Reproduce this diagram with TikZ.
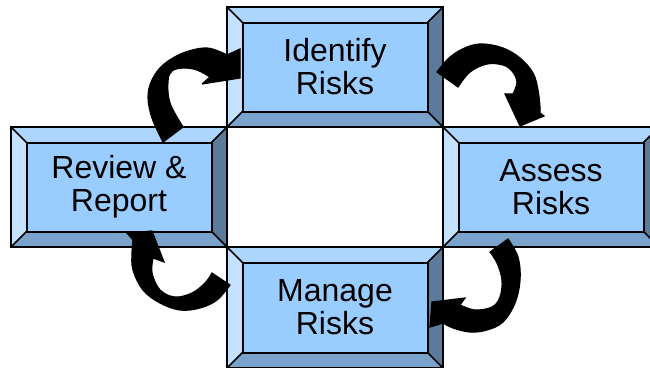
\documentclass[tikz,border=0pt]{standalone}
\usepackage{fontspec}
\setmainfont{Liberation Sans}

\definecolor{face}{HTML}{99CCFF}
\definecolor{bvtop}{HTML}{ADD6FF}
\definecolor{bvleft}{HTML}{C4E2FF}
\definecolor{bvright}{HTML}{5C7A99}
\definecolor{bvbottom}{HTML}{7AA3CC}

\newcommand{\bevw}{15.5pt}

\begin{document}
\begin{tikzpicture}[x=1pt,y=-1pt,
  bevelbox/.style={rectangle, minimum width=216pt, minimum height=120pt,
    inner sep=0pt, fill=face, draw=black, line width=2pt, align=center,
    text=black, font=\fontsize{32pt}{33pt}\selectfont,
    path picture={
      \path (path picture bounding box.north west) coordinate (o1)
            (path picture bounding box.north east) coordinate (o2)
            (path picture bounding box.south east) coordinate (o3)
            (path picture bounding box.south west) coordinate (o4);
      \path ([shift={(\bevw,-\bevw)}]o1) coordinate (i1)
            ([shift={(-\bevw,-\bevw)}]o2) coordinate (i2)
            ([shift={(-\bevw,\bevw)}]o3) coordinate (i3)
            ([shift={(\bevw,\bevw)}]o4) coordinate (i4);
      \fill[bvtop] (o1) -- (o2) -- (i2) -- (i1) -- cycle;
      \fill[bvright] (o2) -- (o3) -- (i3) -- (i2) -- cycle;
      \fill[bvbottom] (o3) -- (o4) -- (i4) -- (i3) -- cycle;
      \fill[bvleft] (o4) -- (o1) -- (i1) -- (i4) -- cycle;
      \draw[line width=2pt] (i1) rectangle (i3);
      \draw[line width=1.5pt] (o1) -- (i1) (o2) -- (i2) (o3) -- (i3) (o4) -- (i4);
    }},
  blockarrow/.style={fill=black, draw=black, line width=1.2pt, line join=miter, miter limit=3}]

\clip (0,0) rectangle (650,367);
\fill[white] (0,0) rectangle (650,367);

% the four stages
\node[bevelbox] (identify) at (335,67)  {Identify\\Risks};
\node[bevelbox] (review)   at (119,187) {Review \&\\Report};
\node[bevelbox] (assess)   at (551,187) {Assess\\Risks};
\node[bevelbox, minimum height=121pt] (manage) at (335,307.5) {Manage\\Risks};

% curved block arrows running clockwise
% review -> identify
\filldraw[blockarrow]
  plot[smooth, tension=0.6] coordinates {(163,142) (152,118) (148,97) (152,80) (163,65) (183,53) (207,48) (227,55)}
  -- (240,49) -- (240,78) -- (202,84)
  -- plot[smooth, tension=0.6] coordinates {(210,77) (197,70) (183,68) (172,71) (168,81) (170,103) (183,127)}
  -- cycle;

% identify -> assess
\filldraw[blockarrow]
  plot[smooth, tension=0.6] coordinates {(437,72) (450,57) (467,47) (483,44) (503,48) (520,58) (533,73) (538,90) (540,107) (540,113)}
  -- (544,116) -- (520,126) -- (505,94)
  -- plot[smooth, tension=0.6] coordinates {(513,94) (517,82) (512,71) (503,65) (487,64) (470,72) (458,87)}
  -- cycle;

% assess -> manage
\filldraw[blockarrow]
  plot[smooth, tension=0.6] coordinates {(508,239) (518,257) (520,280) (515,303) (503,322) (487,330) (470,332) (453,328) (443,323)}
  -- (430,327) -- (432,302) -- (465,298)
  -- plot[smooth, tension=0.6] coordinates {(460,305) (475,310) (492,307) (500,297) (502,280) (497,263) (490,252)}
  -- cycle;

% manage -> review
\filldraw[blockarrow]
  plot[smooth, tension=0.6] coordinates {(230,285) (217,300) (200,308) (180,310) (160,303) (143,290) (133,270) (132,253) (133,240)}
  -- (127,233) -- (152,231) -- (164,262)
  -- plot[smooth, tension=0.6] coordinates {(153,258) (152,273) (160,290) (175,297) (192,293) (205,283) (212,273)}
  -- cycle;

\end{tikzpicture}
\end{document}
